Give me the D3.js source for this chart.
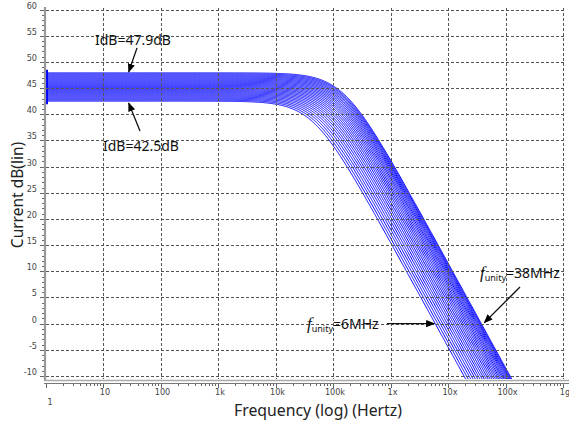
<!DOCTYPE html>
<html><head><meta charset="utf-8">
<script src="https://cdn.jsdelivr.net/npm/d3@7"></script>
<style>
html,body{margin:0;padding:0;background:#fff;}
svg{display:block;}
</style></head>
<body>
<svg id="chart" width="569" height="421"></svg>
<script>
// ---- data ----
// DC gain (dB) of each swept curve, low to high
const dcGainDb = [42.5, 42.7, 42.9, 43.1, 43.3, 43.5, 43.7, 43.9, 44.1, 44.3, 44.5, 44.7, 44.9, 45.1,
                  45.3, 45.5, 45.7, 45.9, 46.1, 46.3, 46.5, 46.7, 46.9, 47.1, 47.3, 47.5, 47.7, 47.9];
// unity-gain frequency (MHz) of each curve, same order
const unityMHz = [6.0, 6.64, 7.34, 8.08, 8.88, 9.73, 10.63, 11.59, 12.61, 13.67, 14.79, 15.96, 17.18, 18.44,
                  19.75, 21.09, 22.47, 23.87, 25.3, 26.74, 28.2, 29.65, 31.1, 32.54, 33.96, 35.35, 36.7, 38.0];
const xTickValues = [1, 10, 100, 1e3, 1e4, 1e5, 1e6, 1e7, 1e8, 1e9];
const xTickLabels = ["1", "10", "100", "1k", "10k", "100k", "1x", "10x", "100x", "1g"];
const yTickValues = [-10, -5, 0, 5, 10, 15, 20, 25, 30, 35, 40, 45, 50, 55, 60];
const annotations = [
  {text: "IdB=47.9dB", value: 47.9},
  {text: "IdB=42.5dB", value: 42.5}
];
const unityNotes = [{label: "6MHz", mhz: 6}, {label: "38MHz", mhz: 38}];

// ---- scales ----
const svg = d3.select("#chart");
const x = d3.scaleLog().domain([1, 1e9]).range([45.5, 563]);
const y = d3.scaleLinear().domain([-10, 60]).range([376, 9.5]);

// sampling grid in frequency (log spaced)
const freqGrid = d3.range(0, 8.31, 0.01).map(e => Math.pow(10, e));

// low-pass (roll-off -20 dB/dec) response for each curve, soft knee
const knee = 0.75;
const curves = dcGainDb.map((g, i) => {
  const fu = unityMHz[i] * 1e6;
  const fp = fu / Math.pow(10, g / 20);
  return freqGrid.map(f => [f, g - (10 / knee) * Math.log10(1 + Math.pow(f / fp, 2 * knee))]);
});

svg.append("defs").append("clipPath").attr("id", "plotclip")
  .append("rect").attr("x", 46).attr("y", 0).attr("width", 523).attr("height", 379);
svg.select("defs").append("marker").attr("id", "arr")
  .attr("viewBox", "0 0 10 10").attr("refX", 9).attr("refY", 5)
  .attr("markerWidth", 9).attr("markerHeight", 9).attr("orient", "auto")
  .attr("markerUnits", "userSpaceOnUse")
  .append("path").attr("d", "M0,1 L10,5 L0,9 Z").attr("fill", "#000");

// ---- curves ----
const line = d3.line().x(d => x(d[0])).y(d => y(d[1]));
const gC = svg.append("g").attr("clip-path", "url(#plotclip)");
gC.selectAll("path.c").data(curves).join("path")
  .attr("class", "c").attr("d", line)
  .attr("fill", "none").attr("stroke", "#0000ff").attr("stroke-width", 1);
// start marker column at 1 Hz
svg.append("line")
  .attr("x1", x(1) + 1.5).attr("x2", x(1) + 1.5)
  .attr("y1", y(d3.max(dcGainDb) + 0.6)).attr("y2", y(d3.min(dcGainDb) - 0.6))
  .attr("stroke", "#0000ff").attr("stroke-width", 2);

// ---- grid (drawn over curves) ----
const grid = svg.append("g").attr("stroke", "#555").attr("stroke-width", 1)
  .attr("stroke-dasharray", "3,2");
grid.selectAll("line.h").data(yTickValues).join("line")
  .attr("x1", 46).attr("x2", 566)
  .attr("y1", d => Math.round(y(d)) + 0.5).attr("y2", d => Math.round(y(d)) + 0.5);
grid.selectAll("line.v").data(xTickValues.slice(1)).join("line")
  .attr("x1", d => Math.round(x(d)) + 0.5).attr("x2", d => Math.round(x(d)) + 0.5)
  .attr("y1", 8).attr("y2", 379);

// ---- frame / axes ----
svg.append("line").attr("x1", 45).attr("x2", 45).attr("y1", 7).attr("y2", 381)
  .attr("stroke", "#999").attr("stroke-width", 2.2);
svg.append("line").attr("x1", 44).attr("x2", 569).attr("y1", 380.5).attr("y2", 380.5)
  .attr("stroke", "#aaa").attr("stroke-width", 1.5);
svg.append("line").attr("x1", 44).attr("x2", 569).attr("y1", 383.5).attr("y2", 383.5)
  .attr("stroke", "#777").attr("stroke-width", 1);

// y ticks (major + minor every 1 dB)
const yTicksAll = d3.range(-10, 61, 1);
svg.append("g").selectAll("line").data(yTicksAll).join("line")
  .attr("x1", d => d % 5 === 0 ? 40 : 42).attr("x2", 44)
  .attr("y1", d => Math.round(y(d)) + 0.5).attr("y2", d => Math.round(y(d)) + 0.5)
  .attr("stroke", "#666").attr("stroke-width", 1);
svg.append("g").selectAll("text").data(yTickValues).join("text")
  .attr("x", 37).attr("y", d => y(d) - 1)
  .attr("text-anchor", "end")
  .attr("font-family", "'Liberation Sans Narrow','DejaVu Sans Condensed',sans-serif")
  .attr("font-size", 9).attr("fill", "#444")
  .text(d => d);

// x ticks (decades + log minors)
const xMinor = [];
for (let e = 0; e < 9; e++) for (let m = 2; m <= 9; m++) xMinor.push(m * Math.pow(10, e));
svg.append("g").selectAll("line").data(xMinor).join("line")
  .attr("x1", d => Math.round(x(d)) + 0.5).attr("x2", d => Math.round(x(d)) + 0.5)
  .attr("y1", 384).attr("y2", 386)
  .attr("stroke", "#666");
svg.append("g").selectAll("line").data(xTickValues).join("line")
  .attr("x1", d => Math.round(x(d)) + 0.5).attr("x2", d => Math.round(x(d)) + 0.5)
  .attr("y1", 384).attr("y2", 388)
  .attr("stroke", "#666");
svg.append("g").selectAll("text").data(xTickValues).join("text")
  .attr("x", d => x(d) + 2).attr("y", (d, i) => i === 0 ? 405 : 395)
  .attr("text-anchor", (d, i) => i === 0 ? "start" : "middle")
  .attr("font-family", "'Liberation Sans Narrow','DejaVu Sans Condensed',sans-serif")
  .attr("font-size", 9).attr("fill", "#444")
  .text((d, i) => xTickLabels[i]);

// axis titles
svg.append("text").attr("x", 318).attr("y", 416).attr("text-anchor", "middle")
  .attr("font-family", "'Noto Sans',sans-serif").attr("font-size", 15.8).attr("fill", "#222")
  .text("Frequency (log) (Hertz)");
svg.append("text").attr("transform", "translate(23,195) rotate(-90)")
  .attr("text-anchor", "middle")
  .attr("font-family", "'Noto Sans',sans-serif").attr("font-size", 15.5).attr("fill", "#222")
  .text("Current dB(lin)");

// ---- annotations ----
const annFont = "'Noto Sans',sans-serif";
svg.append("text").attr("x", 95).attr("y", 45)
  .attr("font-family", annFont).attr("font-size", 14).attr("fill", "#111")
  .text(annotations[0].text);
svg.append("line").attr("x1", 137).attr("y1", 48).attr("x2", x(28)).attr("y2", y(annotations[0].value) - 1)
  .attr("stroke", "#111").attr("stroke-width", 1.3).attr("marker-end", "url(#arr)");
svg.append("text").attr("x", 103).attr("y", 151)
  .attr("font-family", annFont).attr("font-size", 14).attr("fill", "#111")
  .text(annotations[1].text);
svg.append("line").attr("x1", 140).attr("y1", 131).attr("x2", x(28)).attr("y2", y(annotations[1].value) + 2)
  .attr("stroke", "#111").attr("stroke-width", 1.3).attr("marker-end", "url(#arr)");

// f_unity labels
function fLabel(tx, ty, txt) {
  const t = svg.append("text").attr("x", tx).attr("y", ty)
    .attr("font-family", annFont).attr("font-size", 14).attr("fill", "#111");
  t.append("tspan").attr("font-family", "'Liberation Serif',serif").attr("font-style", "italic")
    .attr("font-size", 17).text("f");
  t.append("tspan").attr("font-size", 9).attr("dy", 3).text("unity");
  t.append("tspan").attr("dy", -3).text("=" + txt);
}
fLabel(307, 329, unityNotes[0].label);
svg.append("line").attr("x1", 387).attr("y1", y(0)).attr("x2", x(unityNotes[0].mhz * 1e6) - 1).attr("y2", y(0))
  .attr("stroke", "#111").attr("stroke-width", 1.3).attr("marker-end", "url(#arr)");
fLabel(480, 278, unityNotes[1].label);
svg.append("line").attr("x1", 520).attr("y1", 287).attr("x2", x(unityNotes[1].mhz * 1e6) + 3).attr("y2", y(0) - 1)
  .attr("stroke", "#111").attr("stroke-width", 1.3).attr("marker-end", "url(#arr)");
</script>
</body></html>
